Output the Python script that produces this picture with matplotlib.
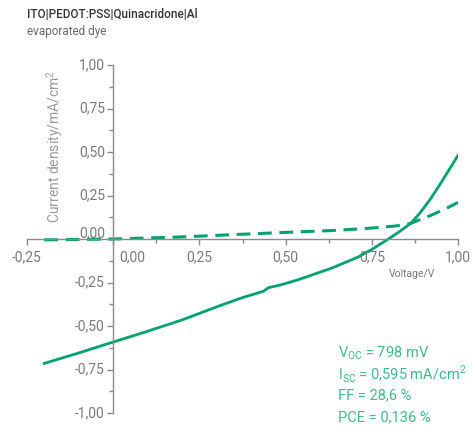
import numpy as np
import matplotlib.pyplot as plt
from matplotlib.ticker import FixedLocator

plt.rcParams['font.family'] = ['Roboto', 'DejaVu Sans']
plt.rcParams['mathtext.fontset'] = 'custom'
plt.rcParams['mathtext.rm'] = 'Roboto'

# J-V curve of the illuminated cell (solid) and dark current (dashed)
v_light = [-0.2, -0.1, 0.0, 0.1, 0.2, 0.3, 0.37, 0.436, 0.45, 0.485, 0.535,
           0.63, 0.709, 0.75, 0.798, 0.83, 0.863, 0.89, 0.92, 0.945, 0.97, 1.0]
j_light = [-0.715, -0.655, -0.592, -0.53, -0.465, -0.39, -0.34, -0.30, -0.28,
           -0.264, -0.235, -0.17, -0.105, -0.06, 0.0, 0.042, 0.09, 0.15, 0.23,
           0.305, 0.385, 0.48]

v_dark = [-0.2, 0.0, 0.2, 0.37, 0.5, 0.65, 0.75, 0.82, 0.863, 0.92, 0.965, 1.0]
j_dark = [-0.005, 0.0, 0.012, 0.027, 0.038, 0.05, 0.063, 0.075, 0.09, 0.135,
          0.175, 0.21]

x_ticks = [-0.25, 0.0, 0.25, 0.5, 0.75, 1.0]
x_minor = [0.125, 0.375, 0.625, 0.875]
y_ticks = [-1.0, -0.75, -0.5, -0.25, 0.0, 0.25, 0.5, 0.75, 1.0]
y_minor = [-0.875, -0.625, -0.375, -0.125, 0.125, 0.375, 0.625, 0.875]

params = [r'V$_\mathregular{OC}$ = 798 mV',
          r'I$_\mathregular{SC}$ = 0,595 mA/cm$^\mathregular{2}$',
          'FF = 28,6 %',
          'PCE = 0,136 %']

green = '#00a36f'
txtgreen = '#3dbb8a'
axgray = '#8a8a8a'
lblgray = '#7a7a7a'

def fmt(v):
    return ('%.2f' % v).replace('.', ',')

fig = plt.figure(figsize=(4.73, 4.26), dpi=100)
ax = fig.add_axes([27/473, 13/426, 431/473, 348/426])
ax.set_xlim(-0.25, 1.0)
ax.set_ylim(-1.0, 1.0)

for side in ['top', 'right']:
    ax.spines[side].set_visible(False)
ax.spines['left'].set_position(('data', 0))
ax.spines['bottom'].set_position(('data', 0))
for side in ['left', 'bottom']:
    ax.spines[side].set_color(axgray)
    ax.spines[side].set_linewidth(1.0)

ax.xaxis.set_major_locator(FixedLocator(x_ticks))
ax.xaxis.set_minor_locator(FixedLocator(x_minor))
ax.yaxis.set_major_locator(FixedLocator(y_ticks))
ax.yaxis.set_minor_locator(FixedLocator(y_minor))
ax.tick_params(which='major', direction='out', length=4, width=1, color=axgray,
               labelbottom=False, labelleft=False)
ax.tick_params(which='minor', direction='out', length=3, width=1, color=axgray)

ax.plot(v_light, j_light, color=green, lw=2.0, solid_joinstyle='round')
ax.plot(v_dark, j_dark, color=green, lw=2.2, dashes=(4.5, 2.5))

# tick labels by hand so the zero labels can sit clear of the axes
for v in x_ticks:
    dx = 14 if v == 0 else 0
    ax.annotate(fmt(v), (v, 0), xytext=(dx, -13), textcoords='offset points',
                ha='center', va='center', fontsize=10, color=lblgray)
for v in y_ticks:
    dy = 4 if v == 0 else 0
    ax.annotate(fmt(v), (0, v), xytext=(-6, dy), textcoords='offset points',
                ha='right', va='center', fontsize=10, color=lblgray)

fig.text(55/473, 1 - 146/426, 'Current density/mA/cm$^\\mathregular{2}$',
         rotation=90, ha='center', va='center', fontsize=10, color='#9a9a9a')
fig.text(412/473, 1 - 274/426, 'Voltage/V', ha='center', va='center',
         fontsize=7.5, color=lblgray)

fig.text(27/473, 1 - 15/426, 'ITO|PEDOT:PSS|Quinacridone|Al', ha='left',
         va='center', fontsize=8.5, color='#333333', fontweight='medium')
fig.text(27/473, 1 - 31/426, 'evaporated dye', ha='left', va='center',
         fontsize=8.5, color='#6a6a6a')

for i, s in enumerate(params):
    fig.text(338/473, 1 - (353 + i * 21.3)/426, s, ha='left', va='center',
             fontsize=10.5, color=txtgreen)

fig.savefig('out.png', dpi=100)
